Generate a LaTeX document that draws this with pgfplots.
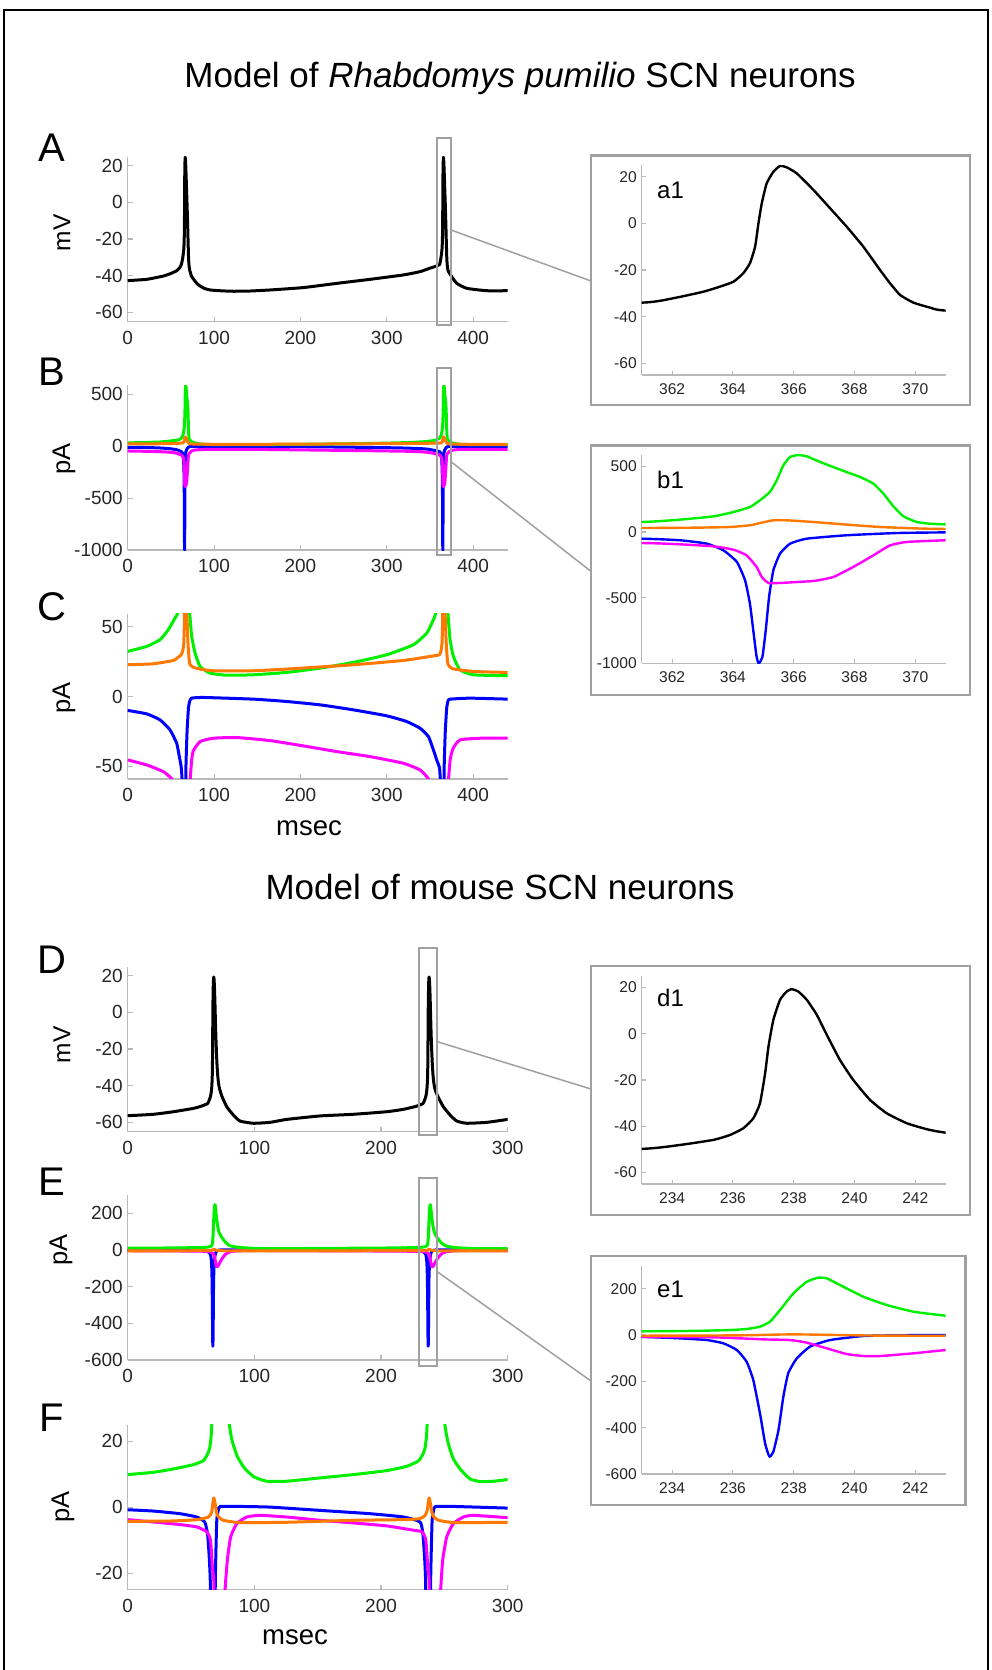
\documentclass[border=0pt]{standalone}
\usepackage{fontspec}
\setmainfont{Liberation Sans}
\usepackage{pgfplots}
\usepackage{pgfplotstable}
\pgfplotsset{compat=1.18}
\definecolor{colG}{RGB}{0,240,0}
\definecolor{colO}{RGB}{255,120,0}
\definecolor{colB}{RGB}{0,0,255}
\definecolor{colM}{RGB}{255,0,255}
\definecolor{axg}{RGB}{185,185,185}
\definecolor{boxg}{RGB}{160,160,160}
\definecolor{tk}{RGB}{38,38,38}

% ---------- Rhabdomys model ----------
\pgfplotstableread{
x y
0 -42.7
22 -42
41.3 -40.2
50 -38.8
56.7 -37.3
60 -35.8
62 -34
63.04 -32.1
64.03 -29.3
64.58 -27.1
65.02 -25
65.34 -21.4
65.56 -17.1
65.73 -10
65.84 0
65.95 8.6
66.11 17.1
66.33 22.1
66.55 24.6
66.77 24
67.1 21.4
67.65 14.3
68.2 6.4
68.74 -1.4
69.29 -10
69.84 -20
70.17 -25.7
70.5 -30.7
70.94 -34
71.48 -36.1
72 -37.4
74.1 -40.5
78 -43
81.8 -45
88 -46.8
95.3 -47.8
110 -48.3
122.4 -48.5
140 -48.4
164.8 -47.8
203.4 -46.5
242 -44.2
280.6 -42
319.2 -39.6
338.5 -37.8
350 -35.9
356 -35
361 -34
362.04 -32.1
363.03 -29.3
363.58 -27.1
364.02 -25
364.34 -21.4
364.56 -17.1
364.73 -10
364.84 0
364.95 8.6
365.11 17.1
365.33 22.1
365.55 24.6
365.77 24
366.1 21.4
366.65 14.3
367.2 6.4
367.74 -1.4
368.29 -10
368.84 -20
369.17 -25.7
369.5 -30.7
369.94 -34
370.48 -36.1
371 -37.4
375.2 -40.5
381 -44.2
392.6 -46.9
415.7 -48.2
440 -48.2
}\VR

\pgfplotstableread{
x y
0 32.4
22 36
37.4 40.8
47 48
54.8 56.4
58.7 61
62 76
63.26 94
64.36 119
65.02 152
65.56 190
65.89 241
66.22 305
66.44 393
66.66 508
66.88 571
67.15 586
67.43 576
67.87 533
68.52 475
69.18 419
69.62 368
69.95 292
70.28 195
70.61 119
71.05 76
71.48 63
72 58
74.1 43.2
78 31.2
83.8 21.6
95.3 16.8
114.6 15.3
145.5 15.6
184.1 17.3
222.7 20.4
261.3 24.5
299.9 30
330.8 37.2
346.3 45.6
354 55.2
356.7 60
361 76
362.26 94
363.36 119
364.02 152
364.56 190
364.89 241
365.22 305
365.44 393
365.66 508
365.88 571
366.15 586
366.43 576
366.87 533
367.52 475
368.18 419
368.62 368
368.95 292
369.28 195
369.61 119
370.05 76
370.48 63
371 58
373.3 40.8
377.1 28.8
384.8 19.2
400.3 15.6
440 14.9
}\GR

\pgfplotstableread{
x y
0 22.8
29.7 23.5
52.9 25.9
58 28
62 30
63.81 33
64.9 38
65.56 51
65.95 71
66.33 89
66.77 89
67.65 76
68.74 56
69.84 38
70.94 28
72 23
76 21
83.8 19.7
99.2 18.5
145.5 18.5
184.1 19.7
261.3 22.8
319.2 25.9
350 28.8
361 30
362.81 33
363.9 38
364.56 51
364.95 71
365.33 89
365.77 89
366.65 76
367.74 56
368.84 38
369.94 28
371 23
376 20
400 18
440 17.3
}\OR

\pgfplotstableread{
x y
0 -10
22 -12.5
37.4 -16.8
49 -24
56.7 -33.6
59.8 -43.2
62 -51
63.26 -63
64.14 -89
64.69 -140
65.13 -228
65.4 -368
65.56 -546
65.67 -749
65.78 -952
65.85 -1000
65.97 -952
66.08 -749
66.19 -495
66.33 -292
66.55 -165
66.88 -89
67.43 -51
68.74 -25
70.39 -8
72 -3
74.1 -1.2
87.6 -0.7
145.5 -1.9
184.1 -3.6
222.7 -6
261.3 -9.6
299.9 -13.9
323 -18
338.5 -22.8
348.2 -28.8
354 -38.4
358 -46
361 -51
362.26 -63
363.14 -89
363.69 -140
364.13 -228
364.4 -368
364.56 -546
364.67 -749
364.78 -952
364.85 -1000
364.97 -952
365.08 -749
365.19 -495
365.33 -292
365.55 -165
365.88 -89
366.43 -51
367.74 -25
369.39 -8
371 -3
373.3 -1.9
396.4 -1.2
440 -1.9
}\BR

\pgfplotstableread{
x y
0 -45.6
22 -49.2
41.3 -54
51 -59.2
56 -66
62 -84
63.26 -94
64.36 -109
65.02 -135
65.45 -178
65.78 -266
65.95 -343
66.17 -388
66.55 -388
67.65 -373
68.3 -343
68.96 -266
69.62 -178
70.17 -102
70.72 -76
72 -63
74 -46
76 -39
83.8 -32.4
99.2 -30
126.2 -29.5
164.8 -31.7
203.4 -35.5
242 -39.6
280.6 -43.2
319.2 -48
338.5 -52.8
348.2 -59.2
355 -70
361 -84
362.26 -94
363.36 -109
364.02 -135
364.45 -178
364.78 -266
364.95 -343
365.17 -388
365.55 -388
366.65 -373
367.3 -343
367.96 -266
368.62 -178
369.17 -102
369.72 -76
371 -63
373.5 -45
377 -37
384.8 -31.2
408 -30
440 -30
}\MR

% ---------- mouse model ----------
\pgfplotstableread{
x y
0 -56.4
20.3 -55.6
36.1 -54.2
51.8 -52.4
58 -51.2
63 -49.8
64.26 -48.1
65.36 -45.9
65.9 -43.8
66.34 -40.9
66.67 -36.6
66.89 -30.1
67.06 -17.1
67.17 -5.5
67.33 6
67.55 14.7
67.77 18.3
67.93 19.3
68.15 18.3
68.43 14.7
68.76 8.2
69.09 -0.5
69.52 -11.3
69.96 -20
70.51 -28.6
71.06 -34.4
71.72 -38.7
72.38 -41.3
73 -42.8
74.2 -45.5
78.2 -51.5
83.4 -56
88.7 -59.3
99.2 -60.5
112.4 -60
125.5 -58.4
151.9 -56.5
178.2 -55.6
204.5 -54.2
217.7 -52.9
228 -51.2
233 -49.8
234.26 -48.1
235.36 -45.9
235.9 -43.8
236.34 -40.9
236.67 -36.6
236.89 -30.1
237.06 -17.1
237.17 -5.5
237.33 6
237.55 14.7
237.77 18.3
237.93 19.3
238.15 18.3
238.43 14.7
238.76 8.2
239.09 -0.5
239.52 -11.3
239.96 -20
240.51 -28.6
241.06 -34.4
241.72 -38.7
242.38 -41.3
243 -42.8
245.3 -46.5
249.2 -51.5
254.5 -56
259.8 -59.3
267.7 -60.5
283.5 -60
300 -58.4
}\VM

\pgfplotstableread{
x y
0 9.85
20.3 10.55
36.1 11.56
51.8 12.86
59.7 14.07
63 16
64.8 18
65.9 21.6
66.45 25.9
66.89 36
67.22 57.6
67.55 108
67.99 180
68.43 230
68.81 247.5
69.09 244.6
69.52 216
70.29 165.5
71.06 129.5
71.94 100.7
73 83.5
75 62
77.5 40
80.3 25
82.5 20
86.5 15.4
91.8 12
99.5 9.2
109.8 7.84
125.5 7.84
151.9 8.84
178.2 9.85
204.5 11.06
220.3 12.36
229.5 14
233 16
234.8 18
235.9 21.6
236.45 25.9
236.89 36
237.22 57.6
237.55 108
237.99 180
238.43 230
238.81 247.5
239.09 244.6
239.52 216
240.29 165.5
241.06 129.5
241.94 100.7
243 83.5
245 62
247.5 40
250.4 25
253.2 19.1
257.1 14.6
262.4 11.56
270.3 8.54
278.2 7.74
288.7 7.84
300 8.34
}\GM

\pgfplotstableread{
x y
0 -4.32
33.4 -4.22
54.5 -3.82
63.7 -3.02
66.3 -1.5
67.3 1.5
68 2.8
68.8 1.5
70.8 -2.5
75.5 -4
88.7 -4.7
125.5 -4.6
178.2 -4
217.7 -3.8
230.8 -3.5
234.8 -2.5
236.5 -1
237.3 1.5
238 2.8
238.8 1.5
240.8 -2.5
245.5 -4
258.7 -4.7
300 -4.6
}\OM

\pgfplotstableread{
x y
0 -0.8
20.3 -1.2
41.3 -2
54.5 -3
60.8 -4.5
63 -8
64.26 -14.4
65.14 -21.6
65.69 -36
66.13 -64.8
66.45 -115
66.67 -194
66.89 -338
67.06 -468
67.2 -525
67.33 -504
67.5 -410
67.66 -266
67.82 -165
68.1 -101
68.54 -50
69.2 -21.6
70.29 -4.3
71.5 -1
73 0.2
88.7 0.2
112.4 0
151.9 -1
191.3 -2
217.7 -3
230.8 -4.5
233 -8
234.26 -14.4
235.14 -21.6
235.69 -36
236.13 -64.8
236.45 -115
236.67 -194
236.89 -338
237.06 -468
237.2 -525
237.33 -504
237.5 -410
237.66 -266
237.82 -165
238.1 -101
238.54 -50
239.2 -21.6
240.29 -4.3
241.5 -1
243 0.2
257.1 0.2
300 -0.3
}\BM

\pgfplotstableread{
x y
0 -3.8
20.3 -4.5
41.3 -5.3
54.5 -6
62.4 -7.5
65.36 -10
66.99 -18.7
67.88 -21.6
68.43 -33
69.09 -57.6
69.74 -82
70.29 -90.7
70.84 -90.7
71.94 -79
73 -64.8
75 -42
76.9 -25
78.7 -16
81.3 -9
86.1 -5
94 -3
104.5 -2.5
125.5 -3
151.9 -4
178.2 -4.8
204.5 -5.7
225.6 -7
232.4 -7.5
235.36 -10
236.99 -18.7
237.88 -21.6
238.43 -33
239.09 -57.6
239.74 -82
240.29 -90.7
240.84 -90.7
241.94 -79
243 -64.8
245 -42
247.1 -25
248.7 -16
251.9 -9
257.1 -5
265 -3
272.9 -2.5
300 -3.2
}\MM

\pgfplotsset{
  base/.style={scale only axis, anchor=south west,
    axis x line*=bottom, axis y line*=left,
    axis line style={draw=axg, line width=1.3pt, -},
    every outer x axis line/.append style={-},
    every outer y axis line/.append style={-},
    major tick style={draw=axg, line width=1.1pt},
    tick align=inside,
    tick label style={text=tk},
    yticklabel style={xshift=-1.4pt},
    /pgf/number format/assume math mode=true,
    /pgf/number format/1000 sep={},
    every axis plot/.append style={line join=round, smooth, tension=0.3},
  },
  main/.style={base, width=380pt, height=165pt, major tick length=5pt,
    tick label style={font=\fontsize{19}{19}\selectfont},
    xticklabel style={yshift=-6pt}},
  ins/.style={base, width=304pt, major tick length=4pt,
    tick label style={font=\fontsize{15.6}{15.6}\selectfont},
    xticklabel style={yshift=-5pt}},
  mline/.style={line width=3pt},
  iline/.style={line width=2.4pt},
}

\begin{document}
\begin{tikzpicture}
\useasboundingbox (0pt,0pt) rectangle (992pt,-1670pt);

% ===== A =====
\begin{axis}[main, at={(127.7pt,-321.5pt)}, xmin=0, xmax=440, ymin=-65, ymax=25,
  xtick={0,100,200,300,400}, ytick={-60,-40,-20,0,20}]
\addplot[black, mline] table {\VR};
\end{axis}
% ===== B =====
\begin{axis}[main, at={(127.7pt,-550pt)}, xmin=0, xmax=440, ymin=-1000, ymax=590,
  xtick={0,100,200,300,400}, ytick={-1000,-500,0,500}]
\addplot[colB, mline] table {\BR};
\addplot[colM, mline] table {\MR};
\addplot[colG, mline] table {\GR};
\addplot[colO, mline] table {\OR};
\end{axis}
% ===== C =====
\begin{axis}[main, at={(127.7pt,-779pt)}, xmin=0, xmax=440, ymin=-59.3, ymax=59.3,
  xtick={0,100,200,300,400}, ytick={-50,0,50}]
\addplot[colB, mline] table {\BR};
\addplot[colM, mline] table {\MR};
\addplot[colG, mline] table {\GR};
\addplot[colO, mline] table {\OR};
\end{axis}
% ===== a1 =====
\begin{axis}[ins, at={(641.7pt,-375pt)}, height=210pt, xmin=361, xmax=371, ymin=-65, ymax=25,
  xtick={362,364,366,368,370}, ytick={-60,-40,-20,0,20}, restrict x to domain=355:376]
\addplot[black, iline] table {\VR};
\end{axis}
% ===== b1 =====
\begin{axis}[ins, at={(641.7pt,-663.3pt)}, height=208.8pt, xmin=361, xmax=371, ymin=-1000, ymax=590,
  xtick={362,364,366,368,370}, ytick={-1000,-500,0,500}, restrict x to domain=355:376]
\addplot[colB, iline] table {\BR};
\addplot[colM, iline] table {\MR};
\addplot[colG, iline] table {\GR};
\addplot[colO, iline] table {\OR};
\end{axis}

% ===== D =====
\begin{axis}[main, at={(127.7pt,-1131.5pt)}, xmin=0, xmax=300, ymin=-65, ymax=25,
  xtick={0,100,200,300}, ytick={-60,-40,-20,0,20}]
\addplot[black, mline] table {\VM};
\end{axis}
% ===== E =====
\begin{axis}[main, at={(127.7pt,-1360pt)}, xmin=0, xmax=300, ymin=-600, ymax=300,
  xtick={0,100,200,300}, ytick={-600,-400,-200,0,200}]
\addplot[colB, mline] table {\BM};
\addplot[colM, mline] table {\MM};
\addplot[colG, mline] table {\GM};
\addplot[colO, mline] table {\OM};
\end{axis}
% ===== F =====
\begin{axis}[main, at={(127.7pt,-1589.6pt)}, xmin=0, xmax=300, ymin=-25, ymax=25,
  xtick={0,100,200,300}, ytick={-20,0,20}]
\addplot[colB, mline] table {\BM};
\addplot[colM, mline] table {\MM};
\addplot[colG, mline] table {\GM};
\addplot[colO, mline] table {\OM};
\end{axis}
% ===== d1 =====
\begin{axis}[ins, at={(641.7pt,-1184pt)}, height=208pt, xmin=233, xmax=243, ymin=-65, ymax=25,
  xtick={234,236,238,240,242}, ytick={-60,-40,-20,0,20}, restrict x to domain=227:251]
\addplot[black, iline] table {\VM};
\end{axis}
% ===== e1 =====
\begin{axis}[ins, at={(641.7pt,-1474pt)}, height=208.5pt, xmin=233, xmax=243, ymin=-600, ymax=300,
  xtick={234,236,238,240,242}, ytick={-600,-400,-200,0,200}, restrict x to domain=227:251]
\addplot[colB, iline] table {\BM};
\addplot[colM, iline] table {\MM};
\addplot[colG, iline] table {\GM};
\addplot[colO, iline] table {\OM};
\end{axis}

% ===== frame =====
\draw[black, line width=1.5pt] (4pt,-1670pt) -- (4pt,-10pt) -- (988pt,-10pt) -- (988pt,-1670pt);

% ===== titles =====
\node[font=\fontsize{35}{35}\selectfont] at (520pt,-78pt) {Model of \textit{Rhabdomys pumilio} SCN neurons};
\node[font=\fontsize{35}{35}\selectfont] at (500pt,-887pt) {Model of mouse SCN neurons};

% ===== panel letters =====
\begin{scope}[every node/.style={font=\fontsize{40}{40}\selectfont}]
\node at (51.7pt,-147.5pt) {A};
\node at (51.7pt,-371.7pt) {B};
\node at (52pt,-606.7pt) {C};
\node at (51.7pt,-960pt) {D};
\node at (51.7pt,-1182pt) {E};
\node at (52pt,-1417.5pt) {F};
\end{scope}

% ===== axis labels =====
\node[rotate=90, font=\fontsize{24.5}{24.5}\selectfont] at (62pt,-233pt) {mV};
\node[rotate=90, font=\fontsize{25.5}{25.5}\selectfont] at (64pt,-459pt) {pA};
\node[rotate=90, font=\fontsize{25.5}{25.5}\selectfont] at (64pt,-698pt) {pA};
\node[font=\fontsize{27.5}{27.5}\selectfont] at (309pt,-828pt) {msec};
\node[rotate=90, font=\fontsize{24.5}{24.5}\selectfont] at (62pt,-1045pt) {mV};
\node[rotate=90, font=\fontsize{25.5}{25.5}\selectfont] at (61pt,-1250pt) {pA};
\node[rotate=90, font=\fontsize{25.5}{25.5}\selectfont] at (63pt,-1506.7pt) {pA};
\node[font=\fontsize{27.5}{27.5}\selectfont] at (295pt,-1637pt) {msec};

% ===== inset labels =====
\begin{scope}[every node/.style={anchor=west, inner sep=0pt, font=\fontsize{24}{24}\selectfont}]
\node at (657pt,-190pt) {a1};
\node at (657pt,-480pt) {b1};
\node at (657pt,-998.3pt) {d1};
\node at (657pt,-1289pt) {e1};
\end{scope}

% ===== zoom rectangles, connectors, inset frames =====
\draw[boxg, line width=2pt] (436.7pt,-137.7pt) rectangle (451pt,-325pt);
\draw[boxg, line width=2pt] (436.7pt,-368.3pt) rectangle (451pt,-555pt);
\draw[boxg, line width=2pt] (419pt,-948.3pt) rectangle (437.3pt,-1135pt);
\draw[boxg, line width=2pt] (419pt,-1178.3pt) rectangle (437.3pt,-1366pt);
\draw[boxg, line width=1.5pt] (451pt,-230pt) -- (591pt,-281pt);
\draw[boxg, line width=1.5pt] (451pt,-461.7pt) -- (591pt,-571.4pt);
\draw[boxg, line width=1.5pt] (437.3pt,-1041.7pt) -- (591pt,-1089pt);
\draw[boxg, line width=1.5pt] (437.3pt,-1271.7pt) -- (591pt,-1381pt);
\draw[boxg, line width=2.5pt] (591pt,-155.7pt) rectangle (970pt,-405pt);
\draw[boxg, line width=2.5pt] (591pt,-445.7pt) rectangle (970pt,-695pt);
\draw[boxg, line width=2.5pt] (591pt,-966pt) rectangle (970pt,-1215pt);
\draw[boxg, line width=2.5pt] (591pt,-1256pt) rectangle (965.7pt,-1505pt);
\end{tikzpicture}
\end{document}
